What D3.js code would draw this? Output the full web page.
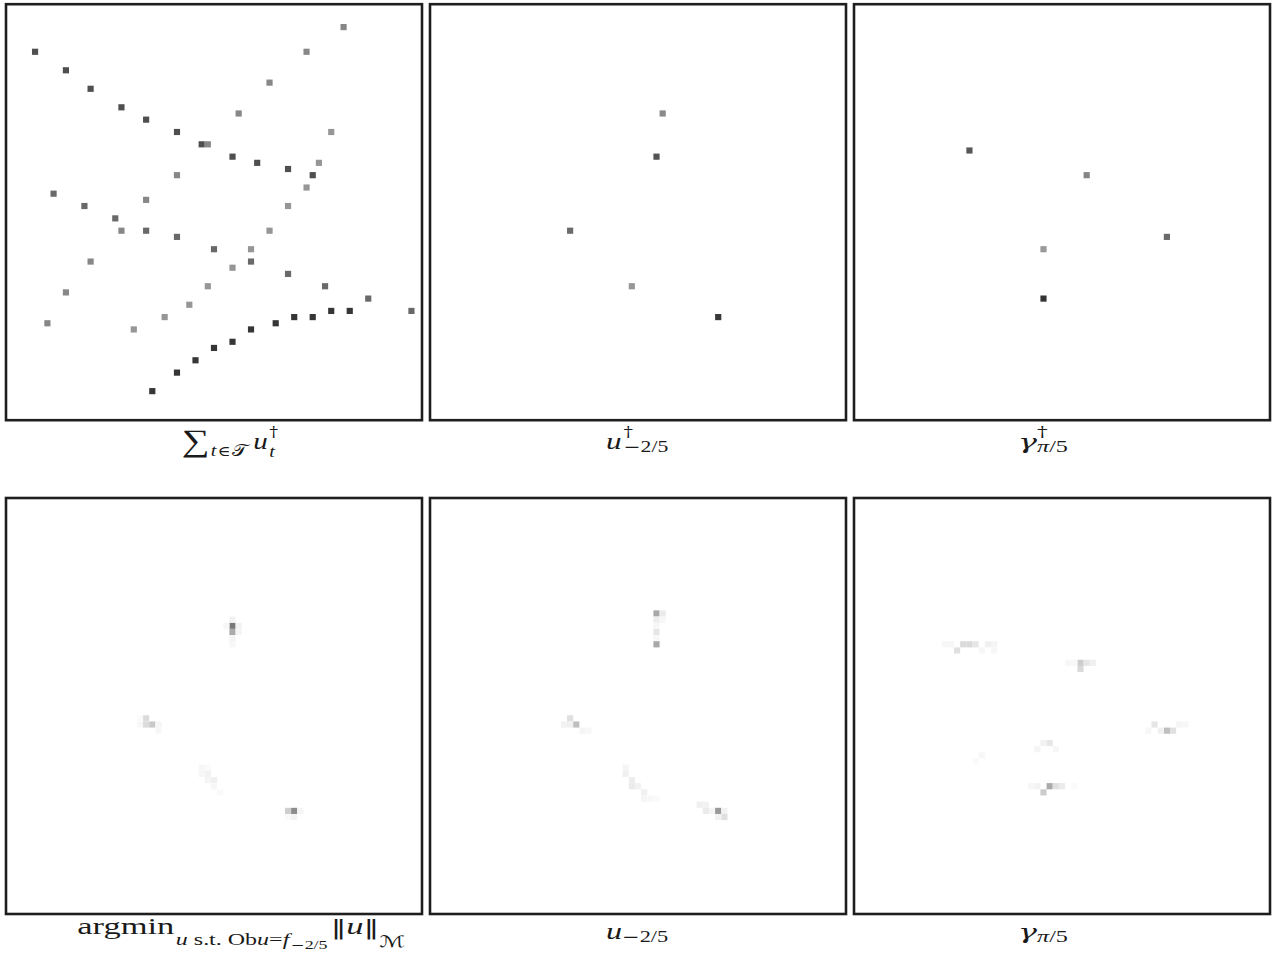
<!DOCTYPE html>
<html>
<head>
<meta charset="utf-8">
<script src="https://cdn.jsdelivr.net/npm/d3@7"></script>
<style>
  body { margin: 0; background: #fff; }
  svg { display: block; }
  .frame { fill: none; stroke: #1e1e1e; stroke-width: 2.6; }
  .lbl text { fill: #1a1a1a; }
</style>
</head>
<body>
<div id="chart"></div>
<script>
var svgWidth = 1274;
var svgHeight = 954;
var gridSize = 67;          // cells per side of each image

// panel 1: five tracks of 11 positions (grid column / row), one grey level per track
var trackCols = [
  [4, 9, 13, 18, 22, 27, 31, 36, 40, 45, 49],
  [6, 9, 13, 18, 22, 27, 32, 37, 42, 48, 54],
  [20, 25, 29, 32, 36, 39, 42, 45, 48, 50, 52],
  [7, 12, 17, 22, 27, 33, 39, 45, 51, 58, 65],
  [23, 27, 30, 33, 36, 39, 43, 46, 49, 52, 55]
];
var trackRows = [
  [7, 10, 13, 16, 18, 20, 22, 24, 25, 26, 27],
  [51, 46, 41, 36, 31, 27, 22, 17, 12, 7, 3],
  [52, 50, 48, 45, 42, 39, 36, 32, 29, 25, 20],
  [30, 32, 34, 36, 37, 39, 41, 43, 45, 47, 49],
  [62, 59, 57, 55, 54, 52, 51, 50, 50, 49, 49]
];
var trackShade = [0.69, 0.47, 0.41, 0.59, 0.79];

// panel 2: u-dagger at -2/5
var uDagCols = [37, 36, 22, 32, 46];
var uDagRows = [17, 24, 36, 45, 50];
var uDagShade = [0.46, 0.67, 0.58, 0.41, 0.78];

// panel 3: gamma-dagger at pi/5
var gDagCols = [18, 37, 50, 30, 30];
var gDagRows = [23, 27, 37, 39, 47];
var gDagShade = [0.66, 0.48, 0.58, 0.40, 0.80];

// panels 4-6: faint reconstructions [col, row, level]
var argminCells = [
  [36, 20, 0.53], [36, 21, 0.33], [36, 19, 0.05], [37, 20, 0.05], [37, 21, 0.04], [36, 22, 0.04], [36, 23, 0.03], [35, 20, 0.03],
  [22, 35, 0.14], [22, 36, 0.14], [23, 36, 0.21], [21, 36, 0.03], [24, 36, 0.04], [24, 37, 0.03], [21, 35, 0.02],
  [32, 44, 0.05], [33, 45, 0.06], [32, 45, 0.04], [31, 43, 0.03], [33, 46, 0.03], [34, 47, 0.02], [31, 44, 0.03], [32, 43, 0.02],
  [45, 50, 0.19], [46, 50, 0.45], [46, 51, 0.05], [47, 50, 0.04], [45, 51, 0.02]
];
var uCells = [
  [36, 18, 0.34], [37, 18, 0.08], [36, 19, 0.07], [37, 19, 0.03], [36, 20, 0.03], [36, 21, 0.10], [36, 22, 0.03], [36, 23, 0.34],
  [22, 35, 0.12], [21, 36, 0.05], [22, 36, 0.06], [23, 36, 0.25], [24, 37, 0.04], [25, 37, 0.03],
  [31, 43, 0.04], [31, 44, 0.06], [32, 45, 0.07], [32, 46, 0.08], [33, 46, 0.05], [34, 47, 0.06], [34, 48, 0.04], [35, 48, 0.03], [36, 48, 0.02],
  [43, 49, 0.06], [44, 49, 0.05], [44, 50, 0.08], [45, 50, 0.04], [46, 50, 0.40], [47, 51, 0.12], [46, 51, 0.05], [47, 50, 0.05]
];
var gCells = [
  [16, 24, 0.12], [17, 23, 0.14], [18, 23, 0.15], [19, 23, 0.10], [21, 23, 0.06], [22, 23, 0.04], [14, 23, 0.03], [15, 23, 0.03], [20, 24, 0.03], [22, 24, 0.03],
  [36, 26, 0.20], [37, 26, 0.10], [36, 27, 0.15], [38, 26, 0.06], [34, 26, 0.03], [35, 26, 0.03],
  [48, 36, 0.10], [50, 37, 0.25], [51, 37, 0.12], [49, 37, 0.06], [52, 36, 0.04], [53, 36, 0.03], [47, 37, 0.03],
  [31, 39, 0.10], [30, 39, 0.05], [29, 40, 0.04], [32, 40, 0.03],
  [31, 46, 0.33], [30, 47, 0.20], [32, 46, 0.12], [33, 46, 0.08], [29, 46, 0.05], [28, 46, 0.03], [35, 46, 0.02],
  [20, 41, 0.03], [19, 42, 0.02]
];

function zipCells(cols, rows, shade) {
  return cols.map(function(c, i) { return [c, rows[i], Array.isArray(shade) ? shade[i] : shade]; });
}

var sumCells = [];
trackCols.forEach(function(cols, k) {
  sumCells = sumCells.concat(zipCells(cols, trackRows[k], trackShade[k]));
});

var panels = [
  { cells: sumCells, left: 6, top: 4.2 },
  { cells: zipCells(uDagCols, uDagRows, uDagShade), left: 430, top: 4.2 },
  { cells: zipCells(gDagCols, gDagRows, gDagShade), left: 854, top: 4.2 },
  { cells: argminCells, left: 6, top: 498 },
  { cells: uCells, left: 430, top: 498 },
  { cells: gCells, left: 854, top: 498 }
];
var panelSize = 416;
var inset = 1.3;

var svg = d3.select("#chart")
  .append("svg")
  .attr("width", svgWidth)
  .attr("height", svgHeight);

var grey = d3.scaleLinear().domain([0, 1]).range(["#ffffff", "#000000"]);

var cellScale = d3.scaleBand()
  .domain(d3.range(gridSize))
  .range([inset, panelSize - inset]);

panels.forEach(function(p) {
  var g = svg.append("g")
    .attr("transform", `translate(${p.left}, ${p.top})`);

  g.selectAll("rect.cell")
    .data(p.cells)
    .enter()
    .append("rect")
    .attr("class", "cell")
    .attr("x", d => cellScale(d[0]))
    .attr("y", d => cellScale(d[1]))
    .attr("width", cellScale.bandwidth())
    .attr("height", cellScale.bandwidth())
    .attr("fill", d => grey(d[2]));

  g.append("rect")
    .attr("class", "frame")
    .attr("width", panelSize)
    .attr("height", panelSize);
});

// captions, laid out left to right then stretched to the reference extent
// piece: {t, s: size, i: italic, dy: baseline shift, gap: space before, stack: reuse previous x, f: font}
var SERIF = '"Liberation Serif", "DejaVu Serif", serif';
var SYM = '"DejaVu Serif", serif';
var SANSSYM = '"DejaVu Sans", sans-serif';

var captions = [
  { left: 181.5, right: 278, y: 448.5, pieces: [
    { t: "\u2211", s: 31, dy: 2 },
    { t: "t", s: 16, i: true, dy: 7.5, gap: 1 },
    { t: "\u2208", s: 14, dy: 7.5, f: SYM, gap: 1 },
    { t: "\uD835\uDCAF", s: 16, dy: 7.5, f: SANSSYM, gap: 1 },
    { t: "u", s: 23, i: true, gap: 5 },
    { t: "\u2020", s: 14, dy: -12, f: SYM, gap: 1 },
    { t: "t", s: 16, i: true, dy: 8, stack: true }
  ]},
  { left: 606, right: 668.3, y: 448.5, pieces: [
    { t: "u", s: 23, i: true },
    { t: "\u2020", s: 14, dy: -12, f: SYM, gap: 1.5 },
    { t: "\u2212", s: 15, dy: 3.5, f: SYM, stack: true },
    { t: "2/5", s: 16, dy: 3.5 }
  ]},
  { left: 1018, right: 1068, y: 448.5, pieces: [
    { t: "\u03B3", s: 21, i: true, f: SYM },
    { t: "\u2020", s: 14, dy: -12, f: SYM },
    { t: "\u03C0", s: 16, i: true, dy: 3.5, stack: true },
    { t: "/5", s: 16, dy: 3.5 }
  ]},
  { left: 77.3, right: 405, y: 934, pieces: [
    { t: "argmin", s: 23 },
    { t: "u", s: 16, i: true, dy: 11, gap: 1 },
    { t: "s.t.", s: 16, dy: 11, gap: 4 },
    { t: "Ob", s: 16, dy: 11, gap: 4 },
    { t: "u", s: 16, i: true, dy: 11 },
    { t: "=", s: 16, dy: 11 },
    { t: "f", s: 16, i: true, dy: 11 },
    { t: "\u2212", s: 11, dy: 15, f: SYM, gap: 1 },
    { t: "2/5", s: 12, dy: 15 },
    { t: "\u2016", s: 21, f: SYM, gap: 2 },
    { t: "u", s: 23, i: true },
    { t: "\u2016", s: 21, f: SYM },
    { t: "\u2133", s: 16, dy: 13, f: SANSSYM }
  ]},
  { left: 606, right: 668.3, y: 938.5, pieces: [
    { t: "u", s: 23, i: true },
    { t: "\u2212", s: 15, dy: 3.5, f: SYM },
    { t: "2/5", s: 16, dy: 3.5 }
  ]},
  { left: 1018, right: 1068, y: 938.5, pieces: [
    { t: "\u03B3", s: 21, i: true, f: SYM },
    { t: "\u03C0", s: 16, i: true, dy: 3.5 },
    { t: "/5", s: 16, dy: 3.5 }
  ]}
];

captions.forEach(function(cap) {
  var lg = svg.append("g").attr("class", "lbl");
  var inner = lg.append("g");
  var x = 0, prevX = 0;
  cap.pieces.forEach(function(p) {
    var px = p.stack ? prevX : x + (p.gap || 0);
    var node = inner.append("text")
      .attr("x", px)
      .attr("y", p.dy || 0)
      .attr("font-size", p.s)
      .attr("font-family", p.f || SERIF)
      .attr("font-style", p.i ? "italic" : "normal")
      .text(p.t);
    var w = node.node().getComputedTextLength();
    prevX = px;
    x = Math.max(x, px + w);
  });
  var bb = inner.node().getBBox();
  var sx = (cap.right - cap.left) / bb.width;
  lg.attr("transform", `translate(${cap.left}, ${cap.y}) scale(${sx}, 1) translate(${-bb.x}, 0)`);
});
</script>
</body>
</html>
